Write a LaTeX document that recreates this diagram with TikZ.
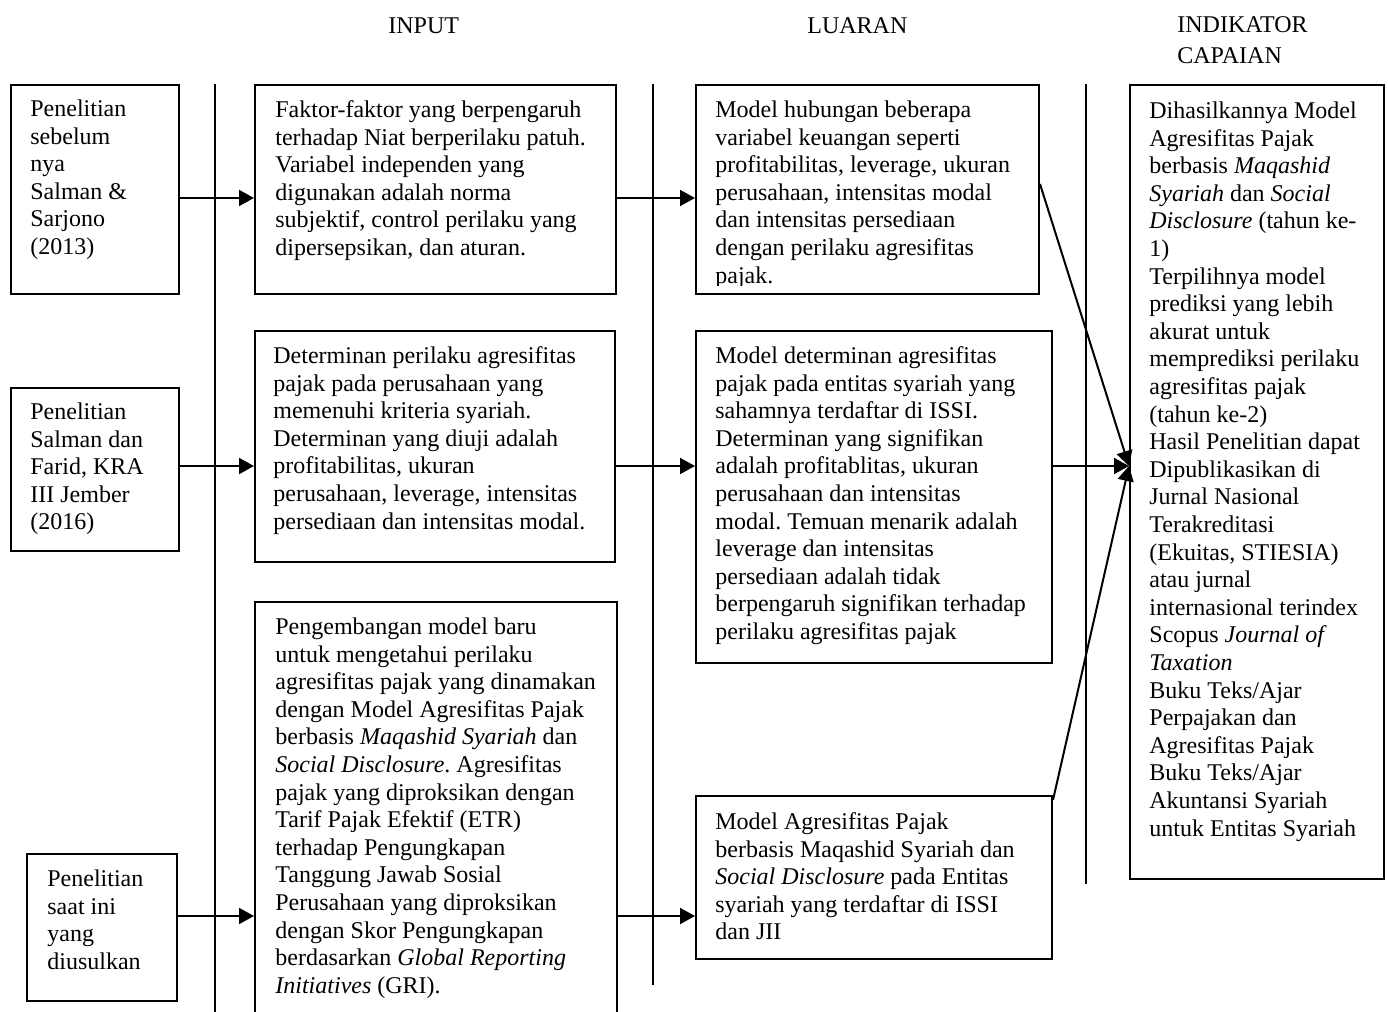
\documentclass[tikz,border=0pt]{standalone}
\usepackage{fontspec}
\setmainfont{Liberation Serif}
\usetikzlibrary{arrows.meta}
\frenchspacing
\begin{document}
\begin{tikzpicture}[x=0.5pt,y=-0.5pt,
  box/.style={draw, line width=1pt, inner sep=0pt, anchor=north west},
  txt/.style={inner sep=0pt, anchor=north west, align=left, font=\fontsize{12}{13.8}\selectfont\frenchspacing},
  hdr/.style={inner sep=0pt, align=left, font=\fontsize{12}{15.5}\selectfont},
  sep/.style={line width=0.8pt},
  arr/.style={line width=1pt, -{Triangle[length=7.5pt,width=8pt]}}]
\clip (0,0) rectangle (1388,1012);
\fill[white] (0,0) rectangle (1388,1012);

% headers
\node[hdr, anchor=base west] (hIn) at (388,33) {INPUT};
\node[hdr, anchor=base west] (hLu) at (807,33) {LUARAN};
\node[hdr, anchor=north west] (hInd) at (1177,10.3) {\strut INDIKATOR\\CAPAIAN};

% separators
\draw[sep] (215,84) -- (215,1012);
\draw[sep] (653,84) -- (653,985);
\draw[sep] (1086,84) -- (1086,884);

% boxes
\node[box, minimum width=84pt, minimum height=104.5pt] (L1) at (10,84) {};
\node[box, minimum width=84pt, minimum height=81.5pt] (L2) at (10,387) {};
\node[box, minimum width=75pt, minimum height=73.5pt] (L3) at (26,853) {};
\node[box, minimum width=180.5pt, minimum height=104.5pt] (M1) at (254,84) {};
\node[box, minimum width=180pt, minimum height=115.5pt] (M2) at (254,330) {};
\node[box, minimum width=181pt, minimum height=212pt] (M3) at (254,601) {};
\node[box, minimum width=171.5pt, minimum height=104.5pt] (R1) at (695,84) {};
\node[box, minimum width=178pt, minimum height=166pt] (R2) at (695,330) {};
\node[box, minimum width=178pt, minimum height=81.5pt] (R3) at (695,795) {};
\node[box, minimum width=127pt, minimum height=397pt] (T) at (1129,84) {};

% texts
\node[txt] (tL1) at (30,96.7) {\strut Penelitian\\sebelum\\nya\\Salman \&\\Sarjono\\(2013)};
\node[txt] (tL2) at (30,399.7) {\strut Penelitian\\Salman dan\\Farid, KRA\\III Jember\\(2016)};
\node[txt] (tL3) at (47,866.7) {\strut Penelitian\\saat ini\\yang\\diusulkan};
\node[txt] (tM1) at (275,97.7) {\strut Faktor-faktor yang berpengaruh\\terhadap Niat berperilaku patuh.\\Variabel independen yang\\digunakan adalah norma\\subjektif, control perilaku yang\\dipersepsikan, dan aturan.};
\node[txt] (tM2) at (273,343.7) {\strut Determinan perilaku agresifitas\\pajak pada perusahaan yang\\memenuhi kriteria syariah.\\Determinan yang diuji adalah\\profitabilitas, ukuran\\perusahaan, leverage, intensitas\\persediaan dan intensitas modal.};
\node[txt] (tM3) at (275,614.7) {\strut Pengembangan model baru\\untuk mengetahui perilaku\\agresifitas pajak yang dinamakan\\dengan Model Agresifitas Pajak\\berbasis \textit{Maqashid Syariah} dan\\\textit{Social Disclosure}. Agresifitas\\pajak yang diproksikan dengan\\Tarif Pajak Efektif (ETR)\\terhadap Pengungkapan\\Tanggung Jawab Sosial\\Perusahaan yang diproksikan\\dengan Skor Pengungkapan\\berdasarkan \textit{Global Reporting}\\\textit{Initiatives} (GRI).};
\begin{scope}
\clip (690,80) rectangle (1045,285);
\node[txt] (tR1) at (715,97.7) {\strut Model hubungan beberapa\\variabel keuangan seperti\\profitabilitas, leverage, ukuran\\perusahaan, intensitas modal\\dan intensitas persediaan\\dengan perilaku agresifitas\\pajak.};
\end{scope}
\node[txt] (tR2) at (715,343.7) {\strut Model determinan agresifitas\\pajak pada entitas syariah yang\\sahamnya terdaftar di ISSI.\\Determinan yang signifikan\\adalah profitablitas, ukuran\\perusahaan dan intensitas\\modal. Temuan menarik adalah\\leverage dan intensitas\\persediaan adalah tidak\\berpengaruh signifikan terhadap\\perilaku agresifitas pajak};
\node[txt] (tR3) at (715,809.7) {\strut Model Agresifitas Pajak\\berbasis Maqashid Syariah dan\\\textit{Social Disclosure} pada Entitas\\syariah yang terdaftar di ISSI\\dan JII};
\node[txt] (tT) at (1149,98.7) {\strut Dihasilkannya Model\\Agresifitas Pajak\\berbasis \textit{Maqashid}\\\textit{Syariah} dan \textit{Social}\\\textit{Disclosure} (tahun ke-\\1)\\Terpilihnya model\\prediksi yang lebih\\akurat untuk\\memprediksi perilaku\\agresifitas pajak\\(tahun ke-2)\\Hasil Penelitian dapat\\Dipublikasikan di\\Jurnal Nasional\\Terakreditasi\\(Ekuitas, STIESIA)\\atau jurnal\\internasional terindex\\Scopus \textit{Journal of}\\\textit{Taxation}\\Buku Teks/Ajar\\Perpajakan dan\\Agresifitas Pajak\\Buku Teks/Ajar\\Akuntansi Syariah\\untuk Entitas Syariah};

% connector rows
\coordinate (row1) at (0,198);
\coordinate (row2) at (0,466);
\coordinate (row3) at (0,916);

\draw[arr] (L1.east |- row1) -- (M1.west |- row1);
\draw[arr] (M1.east |- row1) -- (R1.west |- row1);
\draw[arr] (L2.east |- row2) -- (M2.west |- row2);
\draw[arr] (M2.east |- row2) -- (R2.west |- row2);
\draw[arr] (L3.east |- row3) -- (M3.west |- row3);
\draw[arr] (M3.east |- row3) -- (R3.west |- row3);
\draw[arr] ([yshift=2.75pt]R1.east) -- (T.west |- row2);
\draw[arr] (R2.east |- row2) -- (T.west |- row2);
\draw[arr] ([yshift=-2.5pt]R3.north east) -- (T.west |- row2);
\end{tikzpicture}
\end{document}
